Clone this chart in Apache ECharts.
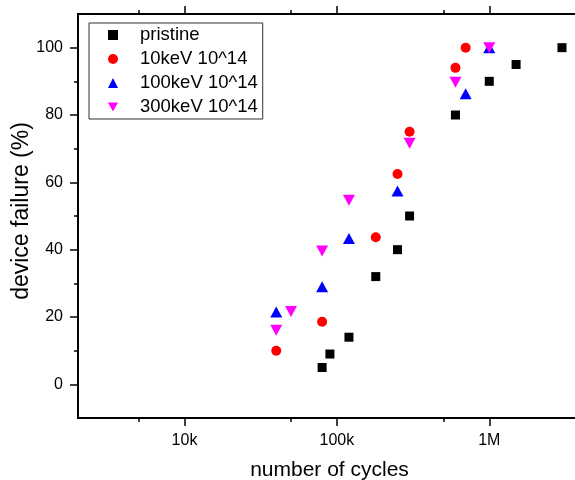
<!DOCTYPE html>
<html>
<head>
<meta charset="utf-8">
<script src="https://cdn.jsdelivr.net/npm/echarts@6/dist/echarts.min.js"></script>
<style>html,body{margin:0;padding:0;background:#fff}#c{width:575px;height:480px}</style>
</head>
<body>
<div id="c"></div>
<script>
// ---- data ----
const seriesNames = ['pristine', '10keV 10^14', '100keV 10^14', '300keV 10^14'];
const pristineX = [80000, 90000, 120000, 180000, 250000, 300000, 600000, 1000000, 1500000, 3000000];
const pristineY = [5, 9, 14, 32, 40, 50, 80, 90, 95, 100];
const kev10X = [40000, 80000, 180000, 250000, 300000, 600000, 700000];
const kev10Y = [10, 18.6, 43.7, 62.5, 75, 94, 100];
const kev100X = [40000, 80000, 120000, 250000, 700000, 1000000];
const kev100Y = [21.5, 29, 43.3, 57.4, 86.3, 100];
const kev300X = [40000, 50000, 80000, 120000, 300000, 600000, 1000000];
const kev300Y = [16.1, 21.6, 39.6, 54.7, 71.6, 89.7, 100];
const xMajorTicks = [10000, 100000, 1000000];
const xTickLabels = ['10k', '100k', '1M'];
const xMinorTicks = [5000, 50000, 500000];
const yMajorTicks = [0, 20, 40, 60, 80, 100];
const yMinorTicks = [10, 30, 50, 70, 90];

const zip = (xs, ys) => xs.map((x, i) => [x, ys[i]]);
const FONT = "'Liberation Sans', Arial, sans-serif";
const lineStyle = { color: '#000', width: 2 };
const tickLine = { color: '#000', width: 1.5 };

function xAxisDef(pos, ticks, len, labels, showLine) {
  return {
    type: 'log', logBase: 10, min: 2000, max: 4000000, position: pos,
    axisLine: { show: showLine, onZero: false, lineStyle: lineStyle },
    axisTick: { show: true, inside: false, length: len, customValues: ticks, lineStyle: tickLine },
    axisLabel: labels ? {
      show: true, customValues: xMajorTicks, margin: 15, color: '#000', fontSize: 16, fontFamily: FONT,
      formatter: v => { const i = xMajorTicks.indexOf(v); return i >= 0 ? xTickLabels[i] : ''; }
    } : { show: false },
    splitLine: { show: false }, minorTick: { show: false }, minorSplitLine: { show: false }
  };
}
function yAxisDef(pos, ticks, len, inside, labels, showLine) {
  return {
    type: 'value', min: -10, max: 110, position: pos,
    axisLine: { show: showLine, onZero: false, lineStyle: lineStyle },
    axisTick: { show: true, inside: inside, length: len, customValues: ticks, lineStyle: tickLine },
    axisLabel: labels ? { show: true, customValues: yMajorTicks, margin: 15, color: '#000', fontSize: 16, fontFamily: FONT } : { show: false },
    splitLine: { show: false }, minorSplitLine: { show: false }
  };
}

const xAxes = [
  Object.assign(xAxisDef('bottom', xMajorTicks, 8, true, true), {
    name: 'number of cycles', nameLocation: 'middle', nameGap: 42, nameMoveOverlap: false,
    nameTextStyle: { fontSize: 21, color: '#000', fontFamily: FONT }
  }),
  xAxisDef('bottom', xMinorTicks, 4, false, false),
  xAxisDef('top', xMajorTicks, 8, false, true),
  xAxisDef('top', xMinorTicks, 4, false, false)
];
const yAxes = [
  Object.assign(yAxisDef('left', yMajorTicks, 8, false, true, true), {
    name: 'device failure (%)', nameLocation: 'middle', nameGap: 45, nameMoveOverlap: false,
    nameTextStyle: { fontSize: 23, color: '#000', fontFamily: FONT, padding: [0, 0, 0, 10] }
  }),
  yAxisDef('left', yMinorTicks, 4, false, false, false)
];

const chart = echarts.init(document.getElementById('c'), null, { renderer: 'canvas' });
chart.setOption({
  animation: false,
  backgroundColor: '#fff',
  grid: { show: false, left: 78, top: 14, width: 503, height: 404, containLabel: false, outerBoundsMode: 'none' },
  xAxis: xAxes,
  yAxis: yAxes,
  legend: {
    orient: 'vertical', left: 89, top: 23,
    padding: [2, 5, 2, 19], itemGap: 4, itemWidth: 10, itemHeight: 10,
    borderColor: '#333', borderWidth: 1, backgroundColor: '#fff',
    textStyle: { fontSize: 18.5, color: '#000', fontFamily: FONT, lineHeight: 20, padding: [0, 0, 0, 17] },
    data: [
      { name: seriesNames[0] },
      { name: seriesNames[1] },
      { name: seriesNames[2] },
      { name: seriesNames[3], icon: 'path://M0,0 L12,0 L6,11 Z' }
    ]
  },
  series: [
    { name: seriesNames[0], type: 'scatter', symbol: 'rect', symbolSize: 9, itemStyle: { color: '#000', opacity: 1 }, data: zip(pristineX, pristineY) },
    { name: seriesNames[1], type: 'scatter', symbol: 'circle', symbolSize: 10, itemStyle: { color: '#ff0000', opacity: 1 }, data: zip(kev10X, kev10Y) },
    { name: seriesNames[2], type: 'scatter', symbol: 'triangle', symbolSize: [12, 11], itemStyle: { color: '#0000ff', opacity: 1 }, data: zip(kev100X, kev100Y) },
    { name: seriesNames[3], type: 'scatter', symbol: 'triangle', symbolRotate: 180, symbolSize: [12, 11], itemStyle: { color: '#ff00ff', opacity: 1 }, data: zip(kev300X, kev300Y) }
  ]
});
</script>
</body>
</html>
